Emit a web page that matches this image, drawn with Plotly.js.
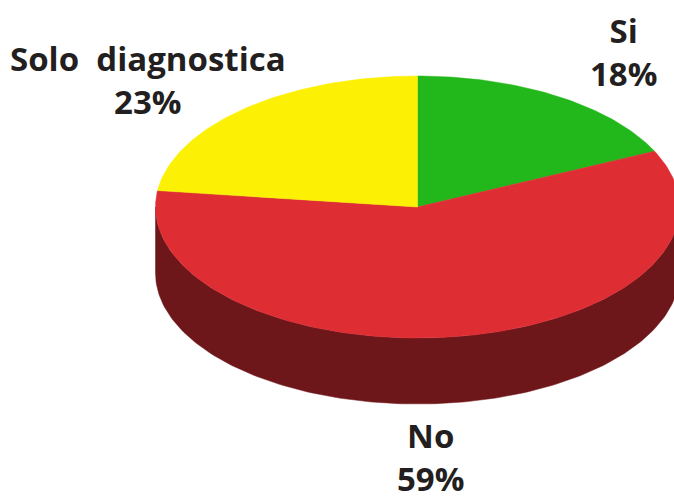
<!DOCTYPE html>
<html>
<head>
<meta charset="utf-8">
<script src="https://cdn.plot.ly/plotly-3.0.1.min.js"></script>
<style>
  html, body { margin: 0; padding: 0; background: #ffffff; }
  #chart { width: 674px; height: 497px; }
</style>
</head>
<body>
<div id="chart"></div>
<script>
// Shares of answers, clockwise from 12 o'clock
const categories = ['Si', 'No', 'Solo  diagnostica'];
const percents = [18, 59, 23];
const topColors = ['#22B71B', '#DE2E34', '#FCF104'];
const sideColors = ['#13650F', '#6E171A', '#8C8603'];

// Geometry of the tilted disc (pixel units on the plot axes)
const cx = 417.5, cy = 207, rx = 262, ry = 131, depth = 66;
const labelPos = [
  { x: 623, y: 52 },
  { x: 430, y: 457 },
  { x: 148, y: 80 }
];

function pt(deg, dy) {
  const r = deg * Math.PI / 180;
  return [cx + rx * Math.sin(r), cy - ry * Math.cos(r) + (dy || 0)];
}
function arc(a0, a1, dy) {
  const n = Math.max(2, Math.ceil(Math.abs(a1 - a0) / 1));
  const out = [];
  for (let i = 0; i <= n; i++) out.push(pt(a0 + (a1 - a0) * i / n, dy));
  return out;
}

const total = percents.reduce((a, b) => a + b, 0);
const sides = [], tops = [], annotations = [];
let start = 0;
percents.forEach((p, i) => {
  const a0 = start, a1 = start + p / total * 360;
  start = a1;
  // front wall: the part of the rim facing the viewer (90°..270°)
  const s0 = Math.max(a0, 90), s1 = Math.min(a1, 270);
  if (s1 > s0) {
    const pts = arc(s0, s1, 0).concat(arc(s1, s0, depth));
    pts.push(pts[0]);
    sides.push({
      type: 'scatter', mode: 'lines', fill: 'toself', hoverinfo: 'skip',
      x: pts.map(q => q[0]), y: pts.map(q => q[1]),
      fillcolor: sideColors[i], line: { color: sideColors[i], width: 0.5 }
    });
  }
  const pts = [[cx, cy]].concat(arc(a0, a1, 0));
  pts.push([cx, cy]);
  tops.push({
    type: 'scatter', mode: 'lines', fill: 'toself', name: categories[i],
    x: pts.map(q => q[0]), y: pts.map(q => q[1]),
    fillcolor: topColors[i], line: { color: topColors[i], width: 0.5 }
  });
  annotations.push({
    xref: 'x', yref: 'y', x: labelPos[i].x, y: labelPos[i].y,
    xanchor: 'center', yanchor: 'middle', showarrow: false, align: 'center',
    text: categories[i].replace(/ /g, '\u00a0') + '<br>' + p + '%',
    font: { family: '"Open Sans", sans-serif', size: 33, weight: 700, color: '#231F20' }
  });
});

Plotly.newPlot('chart', sides.concat(tops), {
  width: 674, height: 497,
  margin: { l: 0, r: 0, t: 0, b: 0 },
  paper_bgcolor: '#ffffff', plot_bgcolor: '#ffffff',
  showlegend: false,
  xaxis: { range: [0, 674], visible: false, fixedrange: true },
  yaxis: { range: [497, 0], visible: false, fixedrange: true },
  annotations: annotations
}, { staticPlot: true });
</script>
</body>
</html>
